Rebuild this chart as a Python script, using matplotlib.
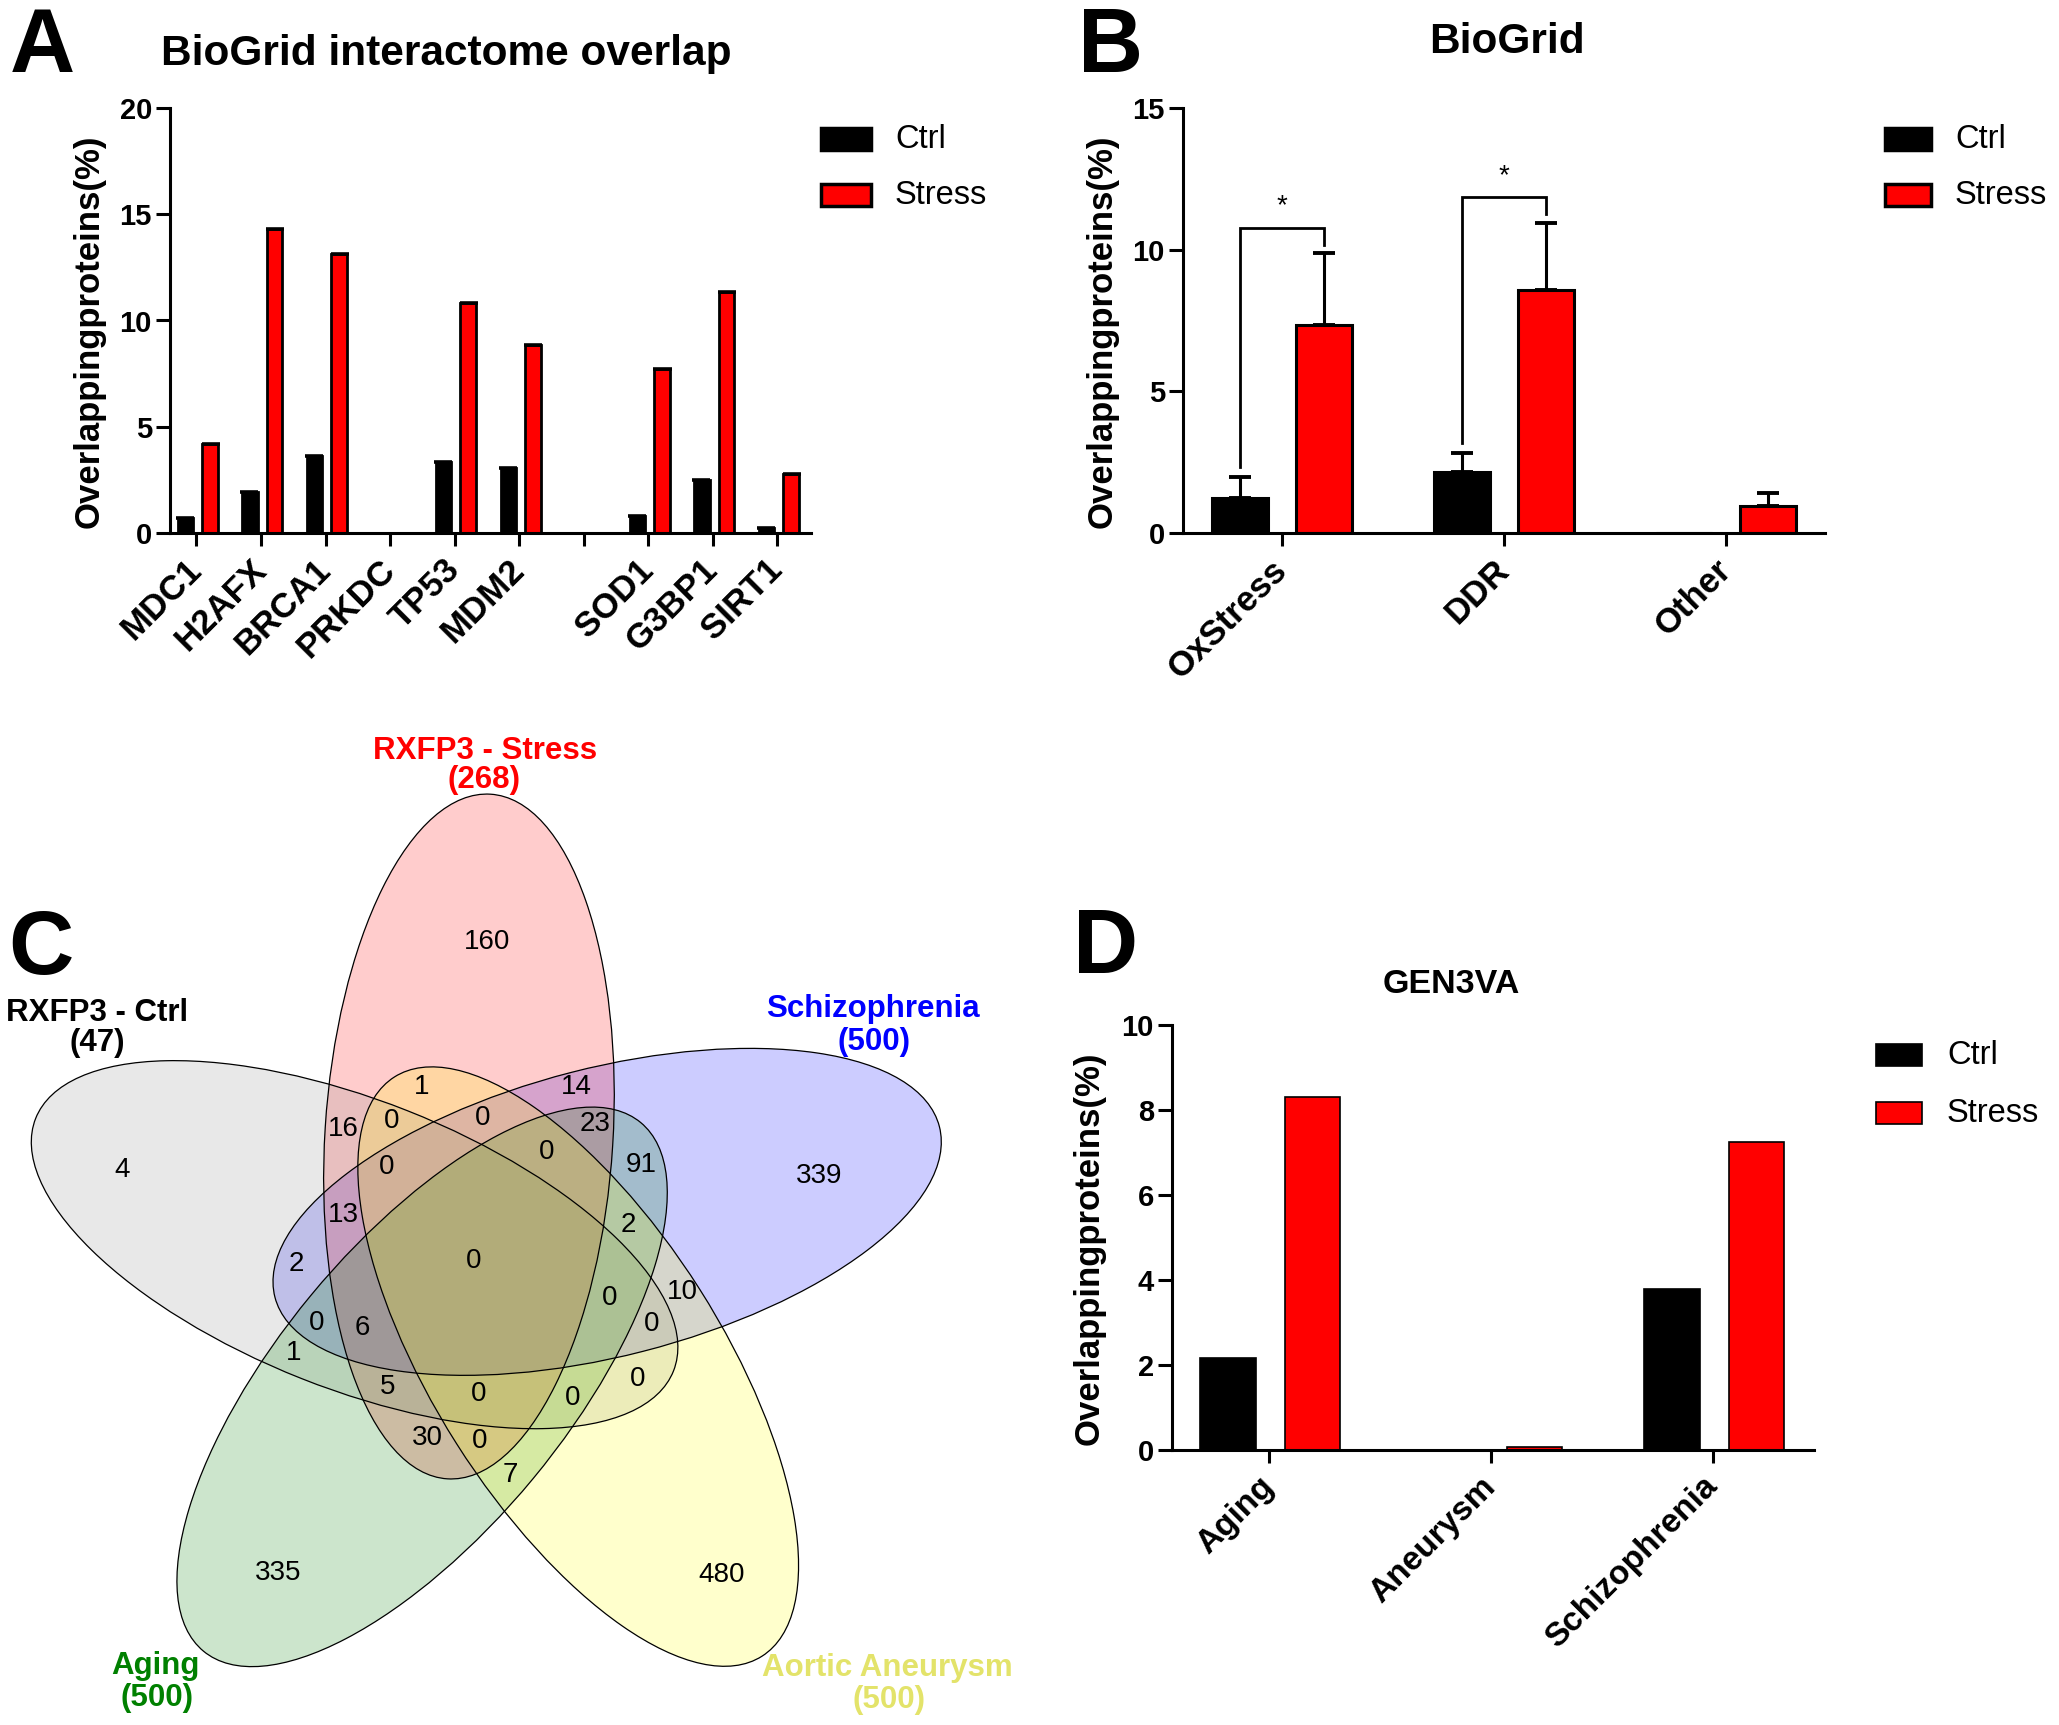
import matplotlib
matplotlib.use('Agg')
import matplotlib.pyplot as plt
from matplotlib.patches import Ellipse, Rectangle
import numpy as np

plt.rcParams['font.family'] = ['Liberation Sans', 'DejaVu Sans']

W, H = 2059, 1725
DPI = 100
fig = plt.figure(figsize=(W / DPI, H / DPI), dpi=DPI)

# ---------------- data ----------------
legend_labels = ['Ctrl', 'Stress']

a_genes = ['MDC1', 'H2AFX', 'BRCA1', 'PRKDC', 'TP53', 'MDM2', '', 'SOD1', 'G3BP1', 'SIRT1']
a_ctrl = [0.72, 1.93, 3.61, 0.0, 3.34, 3.05, 0.0, 0.78, 2.50, 0.22]
a_stress = [4.18, 14.29, 13.13, 0.0, 10.82, 8.84, 0.0, 7.71, 11.32, 2.77]

b_cats = ['OxStress', 'DDR', 'Other']
b_ctrl = [1.25, 2.17, 0.0]
b_ctrl_err = [0.74, 0.67, 0.0]
b_stress = [7.33, 8.57, 0.95]
b_stress_err = [2.55, 2.38, 0.45]
b_sig_pairs = [0, 1]           # categories with significance bracket
b_sig_text = ['*', '*']

d_cats = ['Aging', 'Aneurysm', 'Schizophrenia']
d_ctrl = [2.16, 0.0, 3.79]
d_stress = [8.30, 0.08, 7.24]

venn_names = ['Schizophrenia', 'RXFP3 - Stress', 'RXFP3 - Ctrl', 'Aging', 'Aortic Aneurysm']
venn_totals = [500, 268, 47, 500, 500]
venn_fill = ['#0000FF', '#FF0000', '#8C8C8C', '#008000', '#FFFF00']
venn_text_col = ['#0000FF', '#FF0000', '#000000', '#008000', '#E3E36A']
venn_counts = [160, 4, 339, 335, 480, 1, 14, 16, 0, 0, 23, 0, 0, 91, 13, 2, 0, 2, 10, 0,
               0, 6, 0, 1, 0, 5, 0, 0, 30, 0, 7]
# label positions (image pixels)
venn_count_xy = [(487, 942), (122, 1170), (819, 1176), (278, 1573), (722, 1575),
                 (422, 1087), (576, 1087), (343, 1129), (392, 1121), (483, 1118),
                 (595, 1124), (547, 1152), (387, 1167), (641, 1165), (343, 1215),
                 (628, 1225), (474, 1261), (296, 1264), (682, 1292), (610, 1298),
                 (317, 1323), (362, 1328), (652, 1324), (294, 1353), (638, 1379),
                 (388, 1387), (479, 1394), (573, 1398), (427, 1438), (480, 1441),
                 (510, 1475)]
venn_name_xy = [(873, 1009), (485, 751), (97, 1013), (155, 1666), (887, 1668)]
venn_total_xy = [(874, 1042), (484, 780), (97, 1043), (157, 1698), (889, 1700)]


def px_axes(x0, y0, x1, y1):
    return fig.add_axes([x0 / W, 1 - y1 / H, (x1 - x0) / W, (y1 - y0) / H])


def fx(x):
    return x / W


def fy(y):
    return 1 - y / H


def style_axes(ax, ylim, yticks, cats, xlim, xlab_size, ylab_right_px, spine_px, width_px):
    ax.set_xlim(*xlim)
    ax.set_ylim(*ylim)
    ax.set_yticks(yticks)
    ax.set_xticks(np.arange(len(cats)))
    ax.set_xticklabels(cats, rotation=45, ha='right', va='center', rotation_mode='anchor',
                       fontsize=xlab_size, fontweight='bold')
    for lab in ax.get_yticklabels():
        lab.set_fontsize(21)
        lab.set_fontweight('bold')
    for s in ['top', 'right']:
        ax.spines[s].set_visible(False)
    for s in ['left', 'bottom']:
        ax.spines[s].set_linewidth(2.2)
    ax.tick_params(axis='y', direction='out', length=10, width=2.2, pad=3)
    ax.tick_params(axis='x', direction='out', length=9, width=2.2, pad=14)
    ax.set_ylabel('Overlappingproteins(%)', fontsize=25, fontweight='bold')
    ax.yaxis.set_label_coords((ylab_right_px - spine_px) / width_px, 0.475)
    ax.patch.set_alpha(0)


def legend_px(x0, x1, ys, h, tx, lw):
    cols = ['black', 'red']
    for lab, c, yc in zip(legend_labels, cols, ys):
        r = Rectangle((fx(x0), fy(yc + h / 2)), (x1 - x0) / W, h / H, transform=fig.transFigure,
                      facecolor=c, edgecolor='black', linewidth=lw)
        fig.add_artist(r)
        fig.text(fx(tx), fy(yc), lab, fontsize=23.5, ha='left', va='center')


# ---------------- Panel A ----------------
axA = px_axes(170, 108, 811, 533)
xa = np.arange(len(a_genes))
wA = 0.24
axA.bar(xa - 0.17, a_ctrl, wA, color='black', edgecolor='black', linewidth=2)
axA.bar(xa + 0.21, a_stress, wA, color='red', edgecolor='black', linewidth=2)
for xi, vc, vs in zip(xa, a_ctrl, a_stress):
    if vc > 0:
        axA.plot([xi - 0.17 - 0.15, xi - 0.17 + 0.13], [vc, vc], color='black', lw=2.6,
                 solid_capstyle='butt')
    if vs > 0:
        axA.plot([xi + 0.21 - 0.13, xi + 0.21 + 0.15], [vs, vs], color='black', lw=2.6,
                 solid_capstyle='butt')
style_axes(axA, (0, 20), [0, 5, 10, 15, 20], a_genes, (-0.41, 9.52), 25, 106, 170, 641)
legend_px(821, 871, [139, 195], 22, 895, 2.5)
fig.text(fx(446), fy(54), 'BioGrid interactome overlap', fontsize=30.5, fontweight='bold',
         ha='center', va='center')
fig.text(fx(10), fy(72), 'A', fontsize=65, fontweight='bold', ha='left', va='baseline')

# ---------------- Panel B ----------------
axB = px_axes(1183, 108, 1825, 533)
xb = np.arange(len(b_cats))
wB = 0.25
axB.bar(xb - 0.19, b_ctrl, wB, color='black', edgecolor='black', linewidth=2.2)
axB.bar(xb + 0.19, b_stress, wB, color='red', edgecolor='black', linewidth=2.2)
for xi, v, e in zip(xb - 0.19, b_ctrl, b_ctrl_err):
    if v > 0:
        axB.errorbar([xi], [v], yerr=[[0], [e]], fmt='none', ecolor='black', elinewidth=2.2,
                     capsize=8, capthick=2.8)
for xi, v, e in zip(xb + 0.19, b_stress, b_stress_err):
    if v > 0:
        axB.errorbar([xi], [v], yerr=[[0], [e]], fmt='none', ecolor='black', elinewidth=2.2,
                     capsize=8, capthick=2.8)
for k, txt in zip(b_sig_pairs, b_sig_text):
    lo_l = b_ctrl[k] + b_ctrl_err[k] + 0.35
    lo_r = b_stress[k] + b_stress_err[k] + 0.3
    top = lo_r + 0.6
    axB.plot([k - 0.19, k - 0.19, k + 0.19, k + 0.19], [lo_l, top, top, lo_r], color='black',
             lw=2.0, solid_joinstyle='miter')
    axB.text(k, top + 0.3, txt, fontsize=20, ha='center', va='bottom')
style_axes(axB, (0, 15), [0, 5, 10, 15], b_cats, (-0.446, 2.446), 25, 1119, 1183, 642)
legend_px(1885, 1931, [139, 195], 22, 1955, 2.5)
fig.text(fx(1507), fy(42), 'BioGrid', fontsize=30.5, fontweight='bold', ha='center', va='center')
fig.text(fx(1078), fy(72), 'B', fontsize=65, fontweight='bold', ha='left', va='baseline')

# ---------------- Panel D ----------------
axD = px_axes(1172, 1025, 1814, 1450)
xd = np.arange(len(d_cats))
wD = 0.25
axD.bar(xd - 0.185, d_ctrl, wD, color='black', edgecolor='black', linewidth=1.2)
axD.bar(xd + 0.195, d_stress, wD, color='red', edgecolor='black', linewidth=1.2)
style_axes(axD, (0, 10), [0, 2, 4, 6, 8, 10], d_cats, (-0.437, 2.455), 24, 1106, 1172, 642)
legend_px(1876, 1922, [1055, 1113], 22, 1947, 1.2)
fig.text(fx(1451), fy(985), 'GEN3VA', fontsize=24.5, fontweight='bold', ha='center', va='center')
fig.text(fx(1073), fy(973), 'D', fontsize=65, fontweight='bold', ha='left', va='baseline')

# ---------------- Panel C (Venn) ----------------
axC = fig.add_axes([0, 0, 1030 / W, 1025 / H])
axC.set_xlim(0, 1030)
axC.set_ylim(0, 1025)
axC.axis('off')
cx0, cy0 = 486.2, 1725 - 1269.3
dist = 133.9
ea, eb = 343, 144
for k in range(5):
    phi = np.deg2rad(25.4 + 72 * k)
    theta = 14.4 + 72 * k
    c = (cx0 + dist * np.cos(phi), cy0 + dist * np.sin(phi))
    axC.add_patch(Ellipse(c, 2 * ea, 2 * eb, angle=theta, facecolor=venn_fill[k],
                          alpha=0.2, edgecolor='none'))
for k in range(5):
    phi = np.deg2rad(25.4 + 72 * k)
    theta = 14.4 + 72 * k
    c = (cx0 + dist * np.cos(phi), cy0 + dist * np.sin(phi))
    axC.add_patch(Ellipse(c, 2 * ea, 2 * eb, angle=theta, facecolor='none',
                          edgecolor='black', linewidth=0.9))
for n, (x, y) in zip(venn_counts, venn_count_xy):
    axC.text(x, 1725 - y, str(n), fontsize=20, ha='center', va='center')
for name, tot, col, (x1, y1), (x2, y2) in zip(venn_names, venn_totals, venn_text_col,
                                             venn_name_xy, venn_total_xy):
    axC.text(x1, 1725 - y1, name, fontsize=22.5, fontweight='bold', color=col,
             ha='center', va='center')
    axC.text(x2, 1725 - y2, '(%d)' % tot, fontsize=22.5, fontweight='bold', color=col,
             ha='center', va='center')
fig.text(fx(8), fy(974), 'C', fontsize=65, fontweight='bold', ha='left', va='baseline')

fig.savefig('out.png', dpi=DPI)
